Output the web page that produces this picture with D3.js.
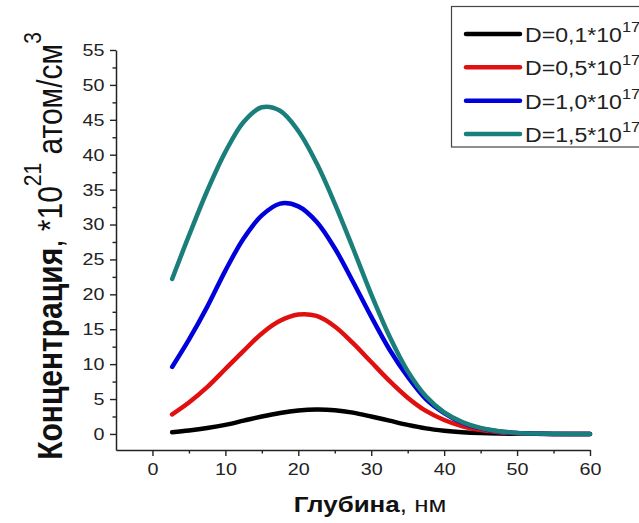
<!DOCTYPE html>
<html>
<head>
<meta charset="utf-8">
<script src="https://cdn.jsdelivr.net/npm/d3@7"></script>
<style>
  html, body { margin: 0; padding: 0; background: #fff; }
  svg { display: block; font-family: "Liberation Sans", Arial, sans-serif; }
</style>
</head>
<body>
<svg id="chart" width="639" height="523"></svg>
<script>
// ---- Data ----
const depth = [2.7, 5, 7.5, 10, 12.5, 15, 17.5, 20, 22.5, 25, 27.5, 30, 32.5, 35, 37.5, 40, 42.5, 45, 47.5, 50, 52.5, 55, 57.5, 60];
const seriesNames = ["D=0,1*10", "D=0,5*10", "D=1,0*10", "D=1,5*10"];
const seriesExp = "17";
const d01 = [0.25, 0.5, 0.85, 1.3, 1.9, 2.5, 3.0, 3.35, 3.5, 3.4, 3.05, 2.5, 1.9, 1.3, 0.8, 0.47, 0.25, 0.12, 0.05, 0.02, 0.01, 0, 0, 0];
const d05 = [2.8, 4.5, 6.7, 9.3, 11.9, 14.4, 16.2, 17.1, 16.9, 15.4, 13.0, 10.3, 7.6, 5.2, 3.3, 2.0, 1.1, 0.55, 0.25, 0.1, 0.04, 0, 0, 0];
const d10 = [9.6, 13.5, 18.2, 23.4, 28.0, 31.3, 33.0, 32.6, 30.4, 26.6, 21.8, 16.8, 12.1, 8.2, 5.0, 3.0, 1.6, 0.8, 0.35, 0.12, 0.04, 0, 0, 0];
const d15 = [22.2, 28.4, 34.8, 40.4, 44.7, 46.8, 46.3, 43.4, 38.8, 33.0, 26.6, 20.0, 14.0, 9.0, 5.4, 3.1, 1.7, 0.85, 0.4, 0.15, 0.05, 0.02, 0, 0];
const seriesValues = [d01, d05, d10, d15];
const seriesColors = ["#000000", "#e01010", "#0000dd", "#1a7f7a"];
const xMajorTicks = [0, 10, 20, 30, 40, 50, 60];
const xMinorTicks = [5, 15, 25, 35, 45, 55];
const yMajorTicks = [0, 5, 10, 15, 20, 25, 30, 35, 40, 45, 50, 55];
const yMinorTicks = [2.5, 7.5, 12.5, 17.5, 22.5, 27.5, 32.5, 37.5, 42.5, 47.5, 52.5];
const xTitleBold = "Глубина";
const xTitleRest = ", нм";
const yTitleBold = "Концентрация";
const yTitleRest1 = ", *10";
const yTitleSup1 = "21";
const yTitleRest2 = " атом/см";
const yTitleSup2 = "3";

// ---- Drawing ----
const svg = d3.select("#chart");
const x = d3.scaleLinear().domain([-5, 60]).range([116, 590]);
const y = d3.scaleLinear().domain([-2.3, 55]).range([450, 50]);
const stretch = 1.16;   // the reference text is a little wider than tall
const axisColor = "#222";

// minor ticks
svg.append("g").attr("transform", "translate(0,450)")
  .call(d3.axisBottom(x).tickValues(xMinorTicks).tickSize(3.5).tickSizeOuter(0).tickFormat(""))
  .call(g => g.select(".domain").remove());
svg.append("g").attr("transform", "translate(116,0)")
  .call(d3.axisLeft(y).tickValues(yMinorTicks).tickSize(3.5).tickSizeOuter(0).tickFormat(""))
  .call(g => g.select(".domain").remove());

const xAxis = svg.append("g").attr("transform", "translate(0,450)")
  .call(d3.axisBottom(x).tickValues(xMajorTicks).tickSize(6).tickSizeOuter(0).tickPadding(7));
const yAxis = svg.append("g").attr("transform", "translate(116,0)")
  .call(d3.axisLeft(y).tickValues(yMajorTicks).tickSize(6).tickSizeOuter(0).tickPadding(4));

svg.selectAll(".tick line").attr("stroke", axisColor).attr("stroke-width", 1.4);
svg.selectAll(".domain").attr("stroke", axisColor).attr("stroke-width", 1.5);
[xAxis, yAxis].forEach(ax => ax.selectAll("text")
  .attr("font-size", 17).attr("fill", "#222")
  .attr("font-family", "Liberation Sans, Arial, sans-serif")
  .attr("transform", `scale(${stretch},1)`));

// lines
const line = d3.line().x((d, i) => x(depth[i])).y(d => y(d)).curve(d3.curveCatmullRom.alpha(0.5));
seriesValues.forEach((vals, k) => {
  svg.append("path").datum(vals)
    .attr("fill", "none")
    .attr("stroke", seriesColors[k])
    .attr("stroke-width", 4.5)
    .attr("stroke-linecap", "round")
    .attr("stroke-linejoin", "round")
    .attr("d", line);
});

// x title
const xt = svg.append("text").attr("transform", "translate(370,512) scale(1.18,1)")
  .attr("text-anchor", "middle").attr("font-size", 22).attr("fill", "#111");
xt.append("tspan").attr("font-weight", "bold").text(xTitleBold);
xt.append("tspan").text(xTitleRest);

// y title
const yt = svg.append("text").attr("transform", `translate(62,246) scale(${stretch},1) rotate(-90)`)
  .attr("text-anchor", "middle").attr("font-size", 30).attr("fill", "#111");
yt.append("tspan").attr("font-weight", "bold").text(yTitleBold);
yt.append("tspan").text(yTitleRest1);
yt.append("tspan").attr("font-size", 21).attr("dy", -18).text(yTitleSup1);
yt.append("tspan").attr("dy", 18).text(yTitleRest2);
yt.append("tspan").attr("font-size", 21).attr("dy", -18).text(yTitleSup2);

// legend
const lg = svg.append("g");
lg.append("rect").attr("x", 451.5).attr("y", 6.5).attr("width", 200).attr("height", 140.5)
  .attr("fill", "#fff").attr("stroke", "#444").attr("stroke-width", 1.2);
const rowY = d3.scaleLinear().domain([0, 3]).range([34, 134]);
seriesNames.forEach((name, k) => {
  const ry = rowY(k);
  lg.append("line").attr("x1", 466).attr("x2", 520).attr("y1", ry).attr("y2", ry)
    .attr("stroke", seriesColors[k]).attr("stroke-width", 4.5).attr("stroke-linecap", "round");
  const t = lg.append("text").attr("transform", `translate(525,${ry + 8}) scale(1.1,1)`)
    .attr("font-size", 21).attr("fill", "#222");
  t.append("tspan").text(name);
  t.append("tspan").attr("font-size", 15).attr("dy", -10).text(seriesExp);
});
</script>
</body>
</html>
